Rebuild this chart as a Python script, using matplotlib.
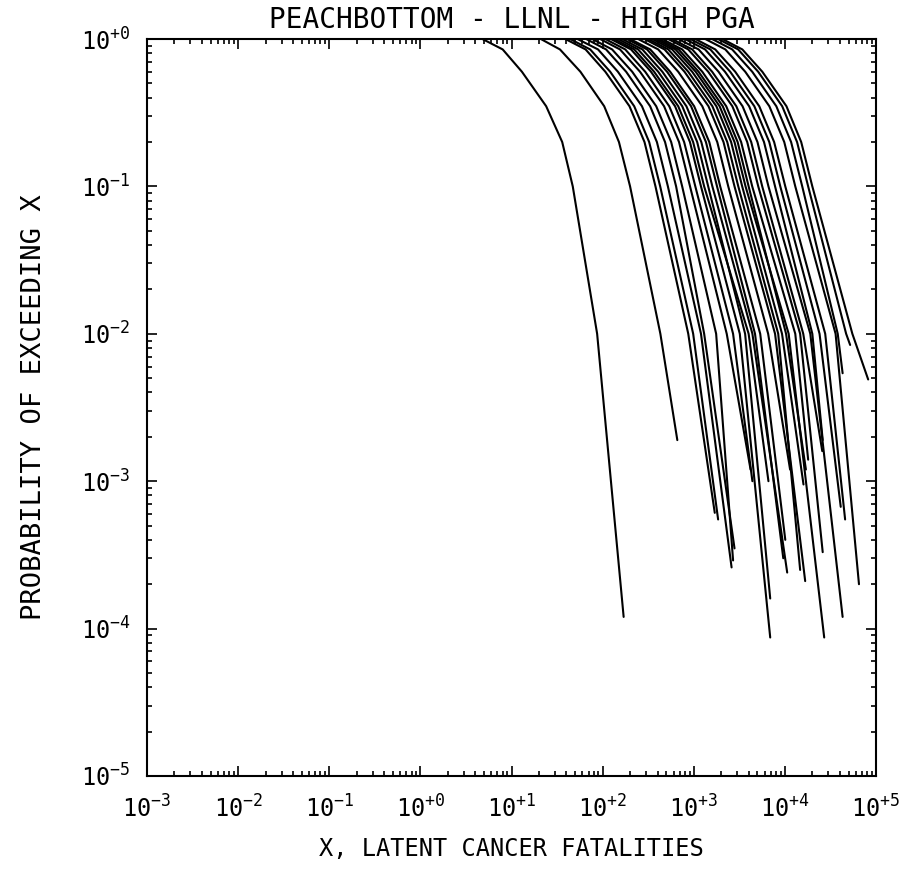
import matplotlib

matplotlib.use("Agg")

import matplotlib.pyplot as plt  # noqa: E402
import numpy as np  # noqa: E402
from matplotlib import rc  # noqa: E402
from matplotlib.ticker import FuncFormatter, LogLocator, NullFormatter  # noqa: E402

rc("font", family="DejaVu Sans Mono", size=17)
rc("mathtext", fontset="custom", rm="DejaVu Sans Mono", it="DejaVu Sans Mono",
   default="regular")

# exceedance levels shared by the upper part of every curve
p_levels = [1.0, 0.85, 0.6, 0.35, 0.2, 0.1, 0.01]

# fatalities X at each of p_levels, one row per curve
x_at_levels = [
    [4.8, 8.0, 13, 24, 36, 47, 87],
    [21, 34, 57, 104, 151, 200, 430],
    [39, 65, 107, 197, 288, 380, 870],
    [44, 73, 121, 222, 324, 428, 985],
    [53, 89, 147, 270, 394, 520, 1200],
    [66, 109, 181, 332, 484, 640, 1300],
    [77, 127, 211, 387, 565, 746, 1760],
    [94, 155, 257, 472, 689, 910, 2300],
    [107, 177, 293, 538, 784, 1040, 2700],
    [123, 205, 339, 623, 908, 1200, 3200],
    [134, 222, 367, 675, 984, 1300, 4000],
    [148, 245, 407, 747, 1090, 1440, 3660],
    [164, 273, 452, 830, 1210, 1600, 4400],
    [185, 307, 509, 934, 1360, 1800, 4700],
    [200, 333, 551, 1010, 1480, 1950, 5360],
    [245, 407, 675, 1240, 1810, 2390, 6550],
    [288, 478, 791, 1450, 2120, 2800, 7800],
    [316, 525, 869, 1600, 2330, 3080, 8450],
    [350, 580, 960, 1770, 2570, 3400, 9300],
    [380, 631, 1050, 1920, 2800, 3700, 11000],
    [411, 682, 1130, 2080, 3030, 4000, 10300],
    [450, 746, 1240, 2270, 3310, 4380, 13000],
    [524, 870, 1440, 2650, 3860, 5100, 14700],
    [580, 962, 1590, 2930, 4270, 5640, 15900],
    [678, 1130, 1870, 3430, 5000, 6600, 19000],
    [802, 1330, 2200, 4050, 5900, 7800, 20000],
    [915, 1520, 2510, 4620, 6740, 8900, 24000],
    [1040, 1720, 2850, 5230, 7620, 10100, 27700],
    [1340, 2220, 3670, 6750, 9840, 13000, 36000],
    [1590, 2640, 4380, 8050, 11700, 15500, 38000],
    [1850, 3070, 5090, 9340, 13600, 18000, 47000],
    [2060, 3410, 5650, 10400, 15100, 20000, 55000],
]

# last point of each curve
x_end = [170, 660, 1700, 1850, 2600, 2800, 2700, 4200, 4400, 6900, 6600,
         6900, 10600, 9600, 10100, 11400, 16700, 14700, 16000, 27000, 17000,
         18000, 26000, 25700, 43000, 26000, 41000, 45800, 65000, 43000,
         52000, 82000]
p_end = [1.2e-4, 1.9e-3, 6.1e-4, 5.5e-4, 2.6e-4, 3.5e-4, 2.9e-4, 1.2e-3,
         1.0e-3, 8.7e-5, 1.0e-3, 1.6e-4, 2.4e-4, 3.0e-4, 4.0e-4, 1.2e-3,
         2.1e-4, 2.5e-4, 9.5e-4, 8.7e-5, 1.2e-3, 1.4e-3, 3.3e-4, 1.6e-3,
         1.2e-4, 1.9e-3, 6.7e-4, 5.5e-4, 2.0e-4, 5.4e-3, 8.4e-3, 4.9e-3]

exp_labels = {-3: "-3", -2: "-2", -1: "-1", 0: "+0", 1: "+1", 2: "+2",
              3: "+3", 4: "+4", 5: "+5"}


def pow_label(v, pos):
    e = int(round(np.log10(v)))
    return r"$10^{%s}$" % exp_labels.get(e, "%+d" % e)


fig = plt.figure(figsize=(9.2, 8.71), dpi=100)
ax = fig.add_axes([0.1598, 0.1091, 0.7924, 0.8461])

for xs, xe, pe in zip(x_at_levels, x_end, p_end):
    ax.plot(list(xs) + [xe], p_levels + [pe], color="black", lw=1.5,
            solid_capstyle="round", solid_joinstyle="round")

ax.set_xscale("log")
ax.set_yscale("log")
ax.set_xlim(1e-3, 1e5)
ax.set_ylim(1e-5, 1.0)

for axis in (ax.xaxis, ax.yaxis):
    axis.set_major_locator(LogLocator(base=10, numticks=20))
    axis.set_minor_locator(LogLocator(base=10, subs=np.arange(2, 10), numticks=100))
    axis.set_major_formatter(FuncFormatter(pow_label))
    axis.set_minor_formatter(NullFormatter())

ax.tick_params(which="both", direction="in", top=True, right=True, width=1.2)
ax.tick_params(which="major", length=7)
ax.tick_params(which="minor", length=3.5)
ax.tick_params(axis="x", which="major", pad=14, labelsize=17)
ax.tick_params(axis="y", which="major", pad=12, labelsize=17)

for s in ax.spines.values():
    s.set_linewidth(1.5)

ax.set_title("PEACHBOTTOM - LLNL - HIGH PGA", fontsize=20, pad=8)
ax.set_xlabel("X, LATENT CANCER FATALITIES", fontsize=17, labelpad=10)
ax.set_ylabel("PROBABILITY OF EXCEEDING X", fontsize=19.5, labelpad=24)

plt.savefig("out.png", dpi=100)
